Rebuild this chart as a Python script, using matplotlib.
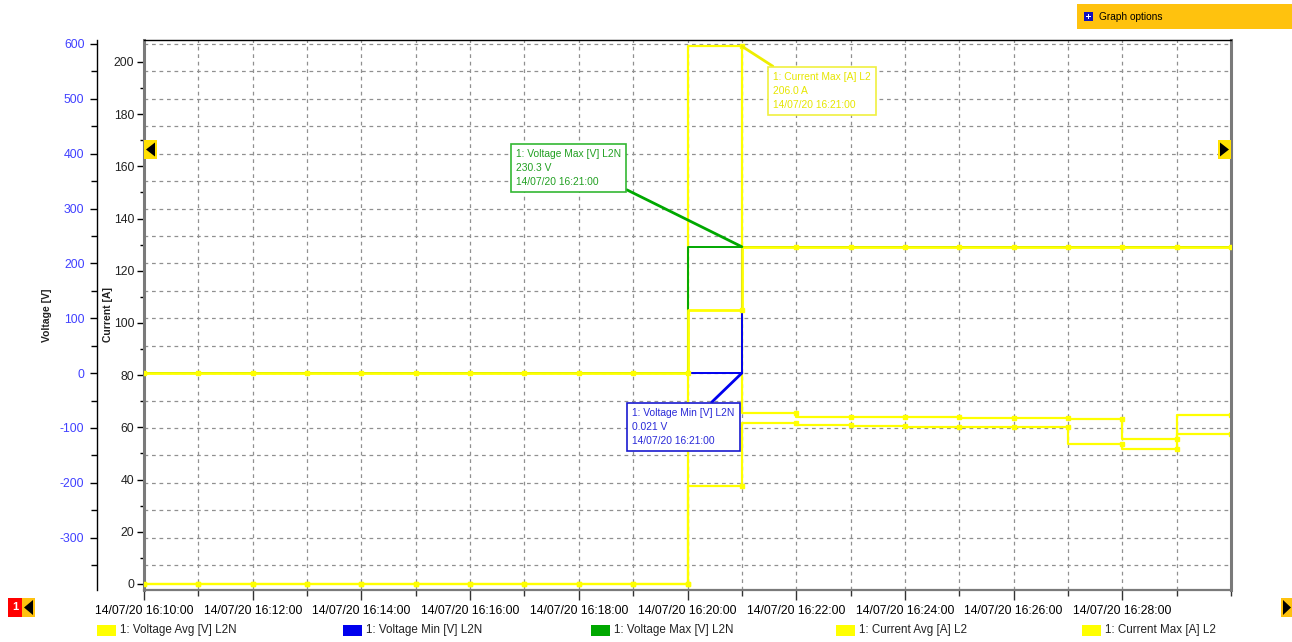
import matplotlib
matplotlib.use("Agg")
import matplotlib.pyplot as plt
import matplotlib.dates as mdates
import pandas as pd
from matplotlib.patches import Rectangle, Polygon
from matplotlib.ticker import MultipleLocator, FixedLocator
from matplotlib.transforms import blended_transform_factory

plt.rcParams["font.family"] = ["Liberation Sans", "DejaVu Sans"]
plt.rcParams["axes.unicode_minus"] = False

# ---- data: one reading per minute, 14/07/20 16:10 .. 16:30 ----
minutes = ["16:10", "16:11", "16:12", "16:13", "16:14", "16:15", "16:16",
           "16:17", "16:18", "16:19", "16:20", "16:21", "16:22", "16:23",
           "16:24", "16:25", "16:26", "16:27", "16:28", "16:29", "16:30"]
voltage_avg = [0, 0, 0, 0, 0, 0, 0, 0, 0, 0, 0,
               115.0, 230.1, 230.0, 230.2, 230.1, 230.3, 230.2, 230.0, 230.1, 230.2]
voltage_min = [0, 0, 0, 0, 0, 0, 0, 0, 0, 0, 0,
               0.021, 230.1, 230.0, 230.2, 230.1, 230.3, 230.2, 230.0, 230.1, 230.2]
voltage_max = [0, 0, 0, 0, 0, 0, 0, 0, 0, 0, 0,
               230.3, 230.1, 230.0, 230.2, 230.1, 230.3, 230.2, 230.0, 230.1, 230.2]
current_avg = [0, 0, 0, 0, 0, 0, 0, 0, 0, 0, 0,
               37.5, 61.8, 60.8, 60.6, 60.3, 60.0, 60.0, 53.5, 51.6, 57.5]
current_max = [0, 0, 0, 0, 0, 0, 0, 0, 0, 0, 0,
               206.0, 65.4, 64.0, 64.1, 63.9, 63.5, 63.5, 63.1, 55.4, 64.8]
tick_minutes = ["16:10", "16:12", "16:14", "16:16", "16:18",
                "16:20", "16:22", "16:24", "16:26", "16:28"]

day = "2020-07-14 "
times = pd.to_datetime([day + m for m in minutes])
tick_times = pd.to_datetime([day + m for m in tick_minutes])

YELLOW = "#ffff00"
GREEN = "#00a800"
BLUE = "#0000ee"
ORANGE = "#ffc20e"

W, H = 1292, 642
fig = plt.figure(figsize=(W / 100, H / 100), dpi=100)
fig.patch.set_facecolor("white")

L, R, T, B = 144, 1231, 40, 590
ax_c = fig.add_axes([L / W, 1 - B / H, (R - L) / W, (B - T) / H])
ax_v = ax_c.twinx()
ax_c.set_facecolor("white")

# ---- limits ----
ax_c.set_xlim(pd.Timestamp(day + "16:10"), pd.Timestamp(day + "16:30"))
ax_c.set_ylim(-2.3, 208.4)
ax_v.set_ylim(-395.4, 607.2)

# ---- grid: vertical every minute, horizontal every 50 V ----
ax_c.xaxis.set_major_locator(FixedLocator(mdates.date2num(tick_times)))
ax_c.xaxis.set_minor_locator(mdates.MinuteLocator())
ax_c.xaxis.set_major_formatter(mdates.DateFormatter("%d/%m/%y %H:%M:%S"))
ax_c.grid(axis="x", which="both", color="#909090", linestyle=(0, (3, 3)), linewidth=0.9)
hgrid = blended_transform_factory(ax_c.transAxes, ax_v.transData)
for v in range(-350, 601, 50):
    ax_c.plot([0, 1], [v, v], transform=hgrid, color="#909090",
              linestyle=(0, (3, 3)), linewidth=0.9, zorder=0.5)
ax_c.set_axisbelow(True)

# ---- current series (lower layer) ----
ax_c.step(times, current_avg, where="pre", color=YELLOW, linewidth=1.6,
          marker="s", markersize=3, zorder=2)
ax_c.step(times, current_max, where="pre", color=YELLOW, linewidth=1.6,
          marker="s", markersize=3, zorder=3)

# ---- voltage series (upper layer) ----
ax_v.step(times, voltage_min, where="pre", color=BLUE, linewidth=1.4,
          zorder=2)
ax_v.step(times, voltage_max, where="pre", color=GREEN, linewidth=1.4,
          zorder=3)
ax_v.step(times, voltage_avg, where="pre", color=YELLOW, linewidth=2.0,
          marker="s", markersize=3.2, zorder=4)

# ---- spines ----
for s in ("left", "right", "top", "bottom"):
    ax_c.spines[s].set_visible(False)
ax_v.spines["top"].set_visible(True)
ax_v.spines["top"].set_color("black")
ax_v.spines["top"].set_linewidth(1.0)
ax_v.spines["bottom"].set_visible(True)
ax_v.spines["bottom"].set_color("#7a7a7a")
ax_v.spines["bottom"].set_linewidth(1.6)
ax_v.spines["right"].set_color("#7a7a7a")
ax_v.spines["right"].set_linewidth(2.2)
ax_c.spines["left"].set_visible(True)
ax_c.spines["left"].set_color("#7a7a7a")
ax_c.spines["left"].set_linewidth(2.2)
ax_v.spines["left"].set_visible(True)
ax_v.spines["left"].set_position(("axes", (97 - L) / (R - L)))
ax_v.spines["left"].set_color("black")
ax_v.spines["left"].set_linewidth(1.0)

# ---- ticks ----
ax_c.tick_params(axis="x", which="major", length=7, width=1, color="#333333",
                 labelsize=8.8, pad=4)
ax_c.tick_params(axis="x", which="minor", length=4, width=1, color="#333333")
ax_c.yaxis.set_major_locator(MultipleLocator(20))
ax_c.yaxis.set_minor_locator(MultipleLocator(10))
ax_c.tick_params(axis="y", which="major", length=5, width=1, color="black",
                 labelsize=8.8, labelcolor="#222222", pad=2)
ax_c.tick_params(axis="y", which="minor", length=3, width=1, color="black")

ax_v.yaxis.set_ticks_position("left")
ax_v.yaxis.set_label_position("left")
ax_v.yaxis.set_major_locator(FixedLocator([-300, -200, -100, 0, 100, 200, 300, 400, 500, 600]))
ax_v.yaxis.set_minor_locator(FixedLocator([-350, -250, -150, -50, 50, 150, 250, 350, 450, 550]))
ax_v.tick_params(axis="y", which="major", length=5, width=1, color="black",
                 labelsize=8.8, labelcolor="#4040ff", pad=4)
ax_v.tick_params(axis="y", which="minor", length=4, width=1, color="black")

fig.text(47 / W, 1 - 315 / H, "Voltage [V]", rotation=90, ha="center", va="center",
         fontsize=7.5, fontweight="bold", color="#222222")
fig.text(108 / W, 1 - 315 / H, "Current [A]", rotation=90, ha="center", va="center",
         fontsize=7.5, fontweight="bold", color="#222222")

# ---- value call-outs ----
t_peak = pd.Timestamp(day + "16:21")


def callout(text, xy, xy_trans, text_px, color, edge, relpos, lcolor):
    ax_v.annotate(text, xy=(mdates.date2num(xy[0]), xy[1]), xycoords=xy_trans,
                  xytext=(text_px[0], H - text_px[1]), textcoords="figure pixels",
                  ha="left", va="top", fontsize=7.4, color=color, linespacing=1.5,
                  bbox=dict(boxstyle="square,pad=0.5", facecolor="white",
                            edgecolor=edge, linewidth=1.2),
                  arrowprops=dict(arrowstyle="-", color=lcolor, linewidth=2,
                                  relpos=relpos, shrinkA=0, shrinkB=0),
                  annotation_clip=False, zorder=10)


callout("1: Current Max [A] L2\n%.1f A\n14/07/20 16:21:00" % current_max[11],
        (t_peak, current_max[11]), ax_c.transData, (773, 72),
        "#e6e600", "#f0f040", (0.09, 1.0), "#eeee00")
callout("1: Voltage Max [V] L2N\n%.1f V\n14/07/20 16:21:00" % voltage_max[11],
        (t_peak, voltage_max[11]), ax_v.transData, (516, 149),
        "#22a022", "#33b833", (1.0, 0.0), GREEN)
callout("1: Voltage Min [V] L2N\n%.3f V\n14/07/20 16:21:00" % voltage_min[11],
        (t_peak, voltage_min[11]), ax_v.transData, (632, 408),
        "#2a2ad8", "#1a1ad0", (0.72, 1.0), BLUE)


# ---- chrome: buttons and navigation arrows ----
def px_rect(x0, y0, x1, y1, color, z=5):
    fig.add_artist(Rectangle((x0 / W, 1 - y1 / H), (x1 - x0) / W, (y1 - y0) / H,
                             transform=fig.transFigure, facecolor=color,
                             edgecolor="none", zorder=z))


def px_poly(pts, color, z=6):
    fig.add_artist(Polygon([(x / W, 1 - y / H) for x, y in pts], closed=True,
                           transform=fig.transFigure, facecolor=color,
                           edgecolor="none", zorder=z))


# graph options button
px_rect(1077, 4, 1292, 29, ORANGE)
px_rect(1084, 12, 1093, 21, "#1010c0", z=6)
px_rect(1086, 16, 1091, 17, "white", z=7)
px_rect(1088, 14, 1089, 19, "white", z=7)
fig.text(1099 / W, 1 - 16.5 / H, "Graph options", ha="left", va="center",
         fontsize=7.3, color="black", zorder=7)

# side arrows on the plot edges
px_rect(144, 140, 157, 159, "#ffe000", z=11)
px_poly([(146, 149.5), (155, 142.5), (155, 156.5)], "black", z=12)
px_rect(1218, 140, 1231, 159, "#ffe000", z=11)
px_poly([(1229, 149.5), (1220, 142.5), (1220, 156.5)], "black", z=12)

# page navigation
px_rect(8, 598, 22, 617, "#ff0000")
fig.text(15 / W, 1 - 607.5 / H, "1", ha="center", va="center", fontsize=8,
         fontweight="bold", color="white", zorder=7)
px_rect(22, 598, 35, 617, ORANGE)
px_poly([(24, 607.5), (33, 600), (33, 615)], "black")
px_rect(1281, 598, 1292, 617, ORANGE)
px_poly([(1291, 607.5), (1283, 600), (1283, 615)], "black")

# ---- legend row ----
legend_items = [(97, YELLOW, "1: Voltage Avg [V] L2N"),
                (343, BLUE, "1: Voltage Min [V] L2N"),
                (591, GREEN, "1: Voltage Max [V] L2N"),
                (836, YELLOW, "1: Current Avg [A] L2"),
                (1082, YELLOW, "1: Current Max [A] L2")]
for x0, col, label in legend_items:
    px_rect(x0, 625, x0 + 19, 636, col)
    fig.text((x0 + 23) / W, 1 - 630.5 / H, label, ha="left", va="center",
             fontsize=8.4, color="#222222")

fig.savefig("out.png", dpi=100, facecolor="white")
